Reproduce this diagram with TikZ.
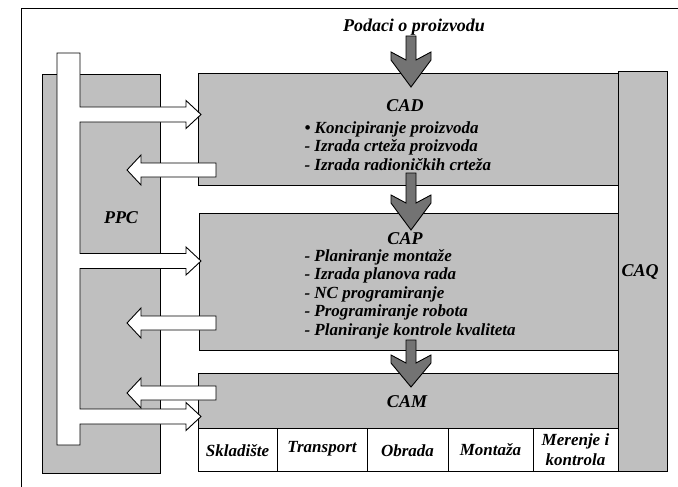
\documentclass[tikz,border=0pt]{standalone}
\usepackage{fontspec}
\setmainfont{Liberation Serif}
\tikzset{
  shaded/.style={draw, line width=0.9pt, fill=black!25},
  whitearrow/.style={draw, line width=0.9pt, fill=white},
  grayarrow/.style={draw, line width=0.9pt, fill=black!55},
  title/.style={font=\fontsize{18}{20}\selectfont\bfseries\itshape},
  item/.style={font=\fontsize{17}{18.5}\selectfont\bfseries\itshape, align=left, anchor=west},
  cell/.style={font=\fontsize{17}{21}\selectfont\bfseries\itshape, align=center}
}
\begin{document}
\begin{tikzpicture}[x=1pt, y=-1pt]
    \useasboundingbox (0,0) rectangle (678,487);
    % 1. Okvir
    \draw[line width=0.9pt] (21,487) -- (21,8) -- (678,8);

    % 2. CAQ, CAD, CAP, CAM
    \draw[shaded] (618,71) rectangle (667,471);
    \draw[shaded] (198,73) rectangle (618,185);
    \draw[shaded] (199,213) rectangle (618,350);
    \draw[shaded] (198,373) rectangle (618,428);

    % 3. Tabela
    \draw[line width=0.9pt, fill=white] (198,428) rectangle (618,471);
    \foreach \sx in {277,367,448,533}
        \draw[line width=0.9pt] (\sx,428) -- (\sx,471);

    % 4. PPC i stub sa strelicama
    \draw[shaded] (42,74) rectangle (160,473);
    \draw[whitearrow] (57,53) -- (80,53)
        \foreach \c in {114.5,261,416.5} {
          -- (80,{\c-7.5}) -- (186,{\c-7.5}) -- (186,{\c-14}) -- (201,\c)
          -- (186,{\c+14}) -- (186,{\c+7.5}) -- (80,{\c+7.5})
        } -- (80,445) -- (57,445) -- cycle;
    \foreach \c in {170,323,393}
        \draw[whitearrow] (216,{\c-7}) -- (141,{\c-7}) -- (141,{\c-15}) -- (127,\c)
            -- (141,{\c+15}) -- (141,{\c+7}) -- (216,{\c+7}) -- cycle;

    % 5. Sive strelice
    \foreach \t/\k/\p in {36/52/87, 173/195/230, 340/355/387}
        \draw[grayarrow] (406,\t) -- (406,{\k+8}) -- (391,\k) -- (391,{\k+8}) -- (411,\p)
            -- (431,{\k+8}) -- (431,\k) -- (416,{\k+8}) -- (416,\t) -- cycle;

    % 6. Tekst
    \node[title] (podaci) at (414,27) {Podaci o proizvodu};
    \node[title] (cad) at (405,106) {CAD};
    \node[item] (cadlist) at (301,146) {\textbullet\ Koncipiranje proizvoda\\
        - Izrada crteža proizvoda\\ - Izrada radioničkih crteža};
    \node[title] (cap) at (405,239) {CAP};
    \node[item] (caplist) at (301,294) {- Planiranje montaže\\ - Izrada planova rada\\
        - NC programiranje\\ - Programiranje robota\\ - Planiranje kontrole kvaliteta};
    \node[title] (cam) at (407,402) {CAM};
    \node[title] (ppc) at (121,218) {PPC};
    \node[title] (caq) at (640,272) {CAQ};
    \node[cell] (skl) at (237.5,451) {Skladište};
    \node[cell] (tra) at (322,449) {Transport};
    \node[cell] (obr) at (407.5,451) {Obrada};
    \node[cell] (mon) at (490.5,450) {Montaža};
    \node[cell, font=\fontsize{17}{20}\selectfont\bfseries\itshape] (mer) at (575.5,450) {Merenje i\\ kontrola};
\end{tikzpicture}
\end{document}
